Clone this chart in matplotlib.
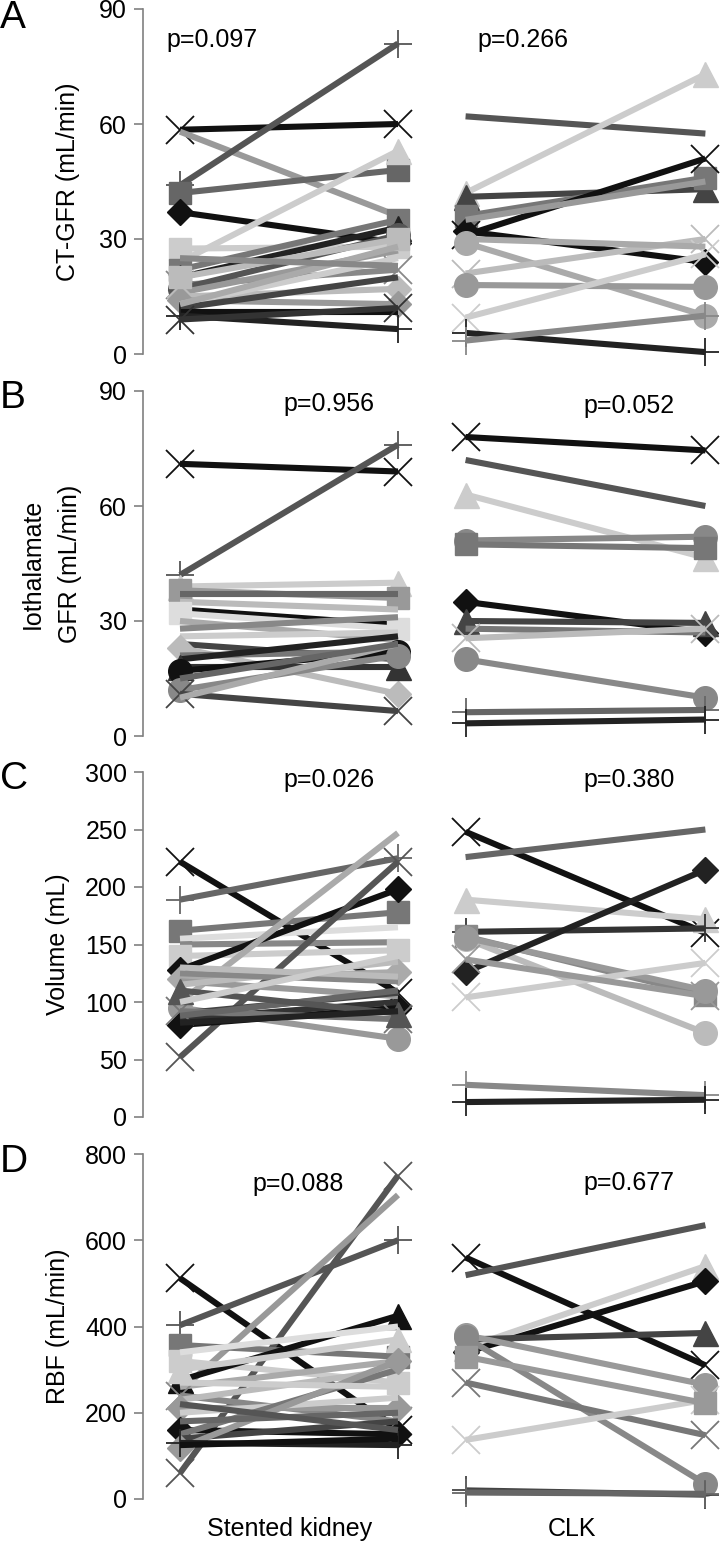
import numpy as np
import matplotlib.pyplot as plt

plt.rcParams['font.family'] = ['Liberation Sans', 'DejaVu Sans']

# ---- data: (pre, post) per subject ----
# A: CT-GFR
a_stent_pre  = [58.5, 58, 44, 42, 37, 27.5, 24, 22, 20, 18, 17, 16, 15, 14, 13, 12, 11, 10, 9, 20, 13, 25]
a_stent_post = [60, 36, 81, 48, 29, 28, 53, 35, 33, 22, 31, 27, 17, 13, 25, 20, 11, 6.5, 12, 30, 28, 23]
a_clk_pre  = [62, 42, 41, 36, 31, 32, 29, 21, 18, 9.5, 5.5, 3.5, 35, 30]
a_clk_post = [57.5, 73, 43, 46, 51, 24, 10, 30, 17.5, 26, 0.5, 10, 45, 28]
# B: Iothalamate GFR
b_stent_pre  = [71, 42, 39, 38, 37, 35, 33, 32, 30, 28, 26, 24, 23, 21, 20, 18, 17, 12, 11, 10, 15]
b_stent_post = [69, 76, 40, 36, 37, 33, 29, 28, 25, 31, 27, 20, 11, 22, 26, 18, 22, 21, 6.5, 24, 24]
b_clk_pre  = [78, 72, 63, 51, 50, 35, 30, 28, 25.5, 20, 6.2, 3.3]
b_clk_post = [74.5, 60, 46.5, 52, 49, 27, 29.5, 27, 28, 10, 6.8, 4.3]
# C: Volume
c_stent_pre  = [222, 189, 162, 155, 150, 140, 128, 100, 52, 95, 80, 120, 118, 115, 125, 90, 85, 92, 88, 110, 130, 100, 82]
c_stent_post = [108, 225, 178, 165, 152, 145, 198, 247, 222, 68, 95, 126, 105, 135, 118, 108, 100, 85, 110, 90, 122, 140, 92]
c_clk_pre  = [248, 226, 189, 161, 157, 155, 156, 126, 104, 137, 28, 13]
c_clk_post = [160, 250, 172, 164, 106, 73, 110, 215, 134, 105, 19, 15]
# D: RBF
d_stent_pre  = [512, 403, 60, 250, 357, 320, 275, 300, 340, 260, 240, 230, 210, 200, 160, 150, 140, 118, 130, 125, 180, 270, 220]
d_stent_post = [160, 600, 750, 705, 330, 270, 425, 370, 400, 320, 180, 300, 210, 235, 150, 300, 180, 320, 125, 140, 200, 260, 160]
d_clk_pre  = [560, 519, 350, 340, 370, 380, 375, 270, 137, 330, 20, 15]
d_clk_post = [310, 635, 540, 505, 385, 265, 35, 148, 230, 222, 10, 12]

# ---- styles (shade, marker) per subject ----
a_stent_sty = [('#111', 'x'), ('#999', ''), ('#555', '+'), ('#666', 's'), ('#111', 'D'), ('#ccc', 's'),
               ('#ccc', '^'), ('#777', 's'), ('#222', '^'), ('#888', 'x'), ('#555', 'o'), ('#999', ''),
               ('#bbb', 'D'), ('#999', 'D'), ('#ccc', ''), ('#444', ''), ('#111', ''), ('#222', '+'),
               ('#333', 'x'), ('#bbb', 's'), ('#aaa', ''), ('#888', '')]
a_clk_sty = [('#555', ''), ('#ccc', '^'), ('#444', '^'), ('#777', 's'), ('#111', 'x'), ('#111', 'D'),
             ('#aaa', 'o'), ('#bbb', 'x'), ('#999', 'o'), ('#ccc', 'x'), ('#222', '+'), ('#888', '+'),
             ('#999', ''), ('#aaa', '')]
b_stent_sty = [('#111', 'x'), ('#555', '+'), ('#ccc', '^'), ('#999', 's'), ('#666', ''), ('#bbb', ''),
               ('#111', ''), ('#ddd', 's'), ('#aaa', ''), ('#888', ''), ('#ccc', ''), ('#444', ''),
               ('#bbb', 'D'), ('#777', ''), ('#222', ''), ('#333', '^'), ('#111', 'o'), ('#888', 'o'),
               ('#444', 'x'), ('#aaa', ''), ('#666', '')]
b_clk_sty = [('#111', 'x'), ('#555', ''), ('#ccc', '^'), ('#888', 'o'), ('#777', 's'), ('#111', 'D'),
             ('#444', '^'), ('#777', ''), ('#bbb', 'x'), ('#888', 'o'), ('#666', '+'), ('#222', '+')]
c_stent_sty = [('#111', 'x'), ('#666', '+'), ('#777', 's'), ('#ddd', ''), ('#888', ''), ('#ccc', 's'),
               ('#111', 'D'), ('#aaa', ''), ('#555', 'x'), ('#999', 'o'), ('#111', 'D'), ('#aaa', 'D'),
               ('#999', ''), ('#bbb', ''), ('#888', ''), ('#444', ''), ('#333', ''), ('#777', 'x'),
               ('#666', ''), ('#555', '^'), ('#bbb', ''), ('#ccc', ''), ('#222', '')]
c_clk_sty = [('#111', 'x'), ('#666', ''), ('#ccc', '^'), ('#333', '+'), ('#888', 's'), ('#bbb', 'o'),
             ('#999', 'o'), ('#222', 'D'), ('#ccc', 'x'), ('#999', 'x'), ('#888', '+'), ('#222', '+')]
d_stent_sty = [('#111', 'x'), ('#555', '+'), ('#555', 'x'), ('#999', ''), ('#777', 's'), ('#ccc', 's'),
               ('#111', '^'), ('#ccc', '^'), ('#ddd', ''), ('#aaa', ''), ('#888', 'x'), ('#bbb', ''),
               ('#999', 'D'), ('#ccc', ''), ('#111', 'D'), ('#777', ''), ('#444', ''), ('#999', 'D'),
               ('#222', '+'), ('#111', ''), ('#666', ''), ('#ccc', ''), ('#555', '')]
d_clk_sty = [('#111', 'x'), ('#555', ''), ('#ccc', '^'), ('#111', 'D'), ('#444', '^'), ('#999', 'o'),
             ('#888', 'o'), ('#777', 'x'), ('#ccc', 'x'), ('#999', 's'), ('#444', '+'), ('#666', '+')]

p_values = [('p=0.097', 'p=0.266'), ('p=0.956', 'p=0.052'),
            ('p=0.026', 'p=0.380'), ('p=0.088', 'p=0.677')]
ylabels = ['CT-GFR (mL/min)', 'Iothalamate\nGFR (mL/min)', 'Volume (mL)', 'RBF (mL/min)']
ymax = [90, 90, 300, 800]
ystep = [30, 30, 50, 200]
letters = ['A', 'B', 'C', 'D']
groups = ['Stented kidney', 'CLK']

X_STENT = (0.0, 1.0)
X_CLK = (1.31, 2.41)

msize = {'x': 20, '+': 20, 's': 16, 'o': 17, '^': 18, 'D': 13, '': 0}

W, H = 720, 1546
fig = plt.figure(figsize=(W / 100, H / 100), dpi=100)

panels = [
    (a_stent_pre, a_stent_post, a_stent_sty, a_clk_pre, a_clk_post, a_clk_sty),
    (b_stent_pre, b_stent_post, b_stent_sty, b_clk_pre, b_clk_post, b_clk_sty),
    (c_stent_pre, c_stent_post, c_stent_sty, c_clk_pre, c_clk_post, c_clk_sty),
    (d_stent_pre, d_stent_post, d_stent_sty, d_clk_pre, d_clk_post, d_clk_sty),
]
bottoms_px = [354, 736, 1117, 1499]   # pixel row of y=0
label_x = [-0.109, -0.105, -0.1265, -0.1265]
ptext_px = [((166, 28), (477, 28)), ((283, 392), (583, 394)),
            ((283, 768), (583, 768)), ((252, 1172), (583, 1171))]
letter_top = [0, 380, 761, 1144]


def draw(ax, xs, pre, post, sty):
    for v0, v1, (c, m) in zip(pre, post, sty):
        kw = dict(color=c, lw=4.4, solid_capstyle='butt', clip_on=False)
        if m:
            kw.update(marker=m, ms=msize[m], mec=c, mfc=c)
            if m in 'x+':
                kw['mew'] = 1.3
        ax.plot(xs, [v0, v1], **kw)


for i, (sp, spo, ss, cp, cpo, cs) in enumerate(panels):
    b = 1 - bottoms_px[i] / H
    ax = fig.add_axes([143 / W, b, 577 / W, 345 / H])
    draw(ax, X_STENT, sp, spo, ss)
    draw(ax, X_CLK, cp, cpo, cs)
    ax.set_xlim((143 - 180) / 218, (720 - 180) / 218)
    ax.set_ylim(0, ymax[i])
    ax.set_yticks(np.arange(0, ymax[i] + 1, ystep[i]))
    for s in ['top', 'right', 'bottom']:
        ax.spines[s].set_visible(False)
    ax.spines['left'].set_color('#808080')
    ax.spines['left'].set_linewidth(1.2)
    ax.tick_params(axis='y', direction='out', length=6.5, width=1.2, color='#808080',
                   labelsize=18, pad=5)
    ax.set_xticks([])
    ax.patch.set_alpha(0)
    ax.set_ylabel(ylabels[i], fontsize=18, linespacing=1.7)
    ax.yaxis.set_label_coords(label_x[i], 0.5)
    for txt, (px, py) in zip(p_values[i], ptext_px[i]):
        fig.text(px / W, 1 - py / H, txt, fontsize=18, ha='left', va='top')
    fig.text(0.0, 1 - letter_top[i] / H, letters[i], fontsize=28, ha='left', va='top')

fig.text(290 / W, 1 - 1517 / H, groups[0], fontsize=18, ha='center', va='top')
fig.text(572 / W, 1 - 1517 / H, groups[1], fontsize=18, ha='center', va='top')

plt.savefig('out.png', dpi=100)
